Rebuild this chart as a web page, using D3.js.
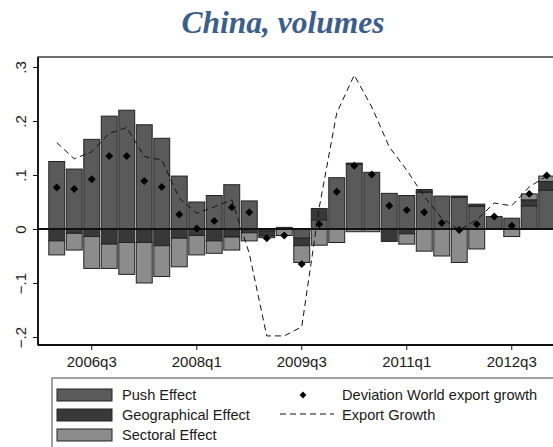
<!DOCTYPE html>
<html>
<head>
<meta charset="utf-8">
<script src="https://cdn.jsdelivr.net/npm/d3@7"></script>
<style>
  body { margin: 0; background: #fff; }
  svg { display: block; }
  text { font-family: "Liberation Sans", Arial, sans-serif; fill: #1a1a1a; }
</style>
</head>
<body>
<svg id="chart" width="553" height="447"></svg>
<script>
// quarters 2006q1 .. 2013q1
let quarters = [];
for (let yr = 2006; yr <= 2013; yr++) {
  for (let q = 1; q <= 4; q++) {
    if (yr === 2013 && q > 1) break;
    quarters.push(yr + "q" + q);
  }
}

let pushEffect = [0.125, 0.111, 0.166, 0.209, 0.220, 0.193, 0.168, 0.098, 0.050, 0.062, 0.082, 0.052,
  -0.004, 0.003, -0.017, 0.017, 0.095, 0.120, 0.105, 0.066, 0.062, 0.068, 0.061, 0.059, 0.042, 0.023, 0.020, 0.043, 0.072];
let geoEffect = [-0.022, -0.008, -0.014, -0.028, -0.025, -0.025, -0.031, -0.017, -0.012, -0.022, -0.015, -0.007,
  -0.009, 0, -0.014, 0.021, 0, 0.002, 0, -0.023, -0.009, 0.005, 0, 0.002, 0.004, 0, 0, 0.011, 0.016];
let sectEffect = [-0.026, -0.031, -0.059, -0.045, -0.059, -0.075, -0.057, -0.053, -0.036, -0.023, -0.024, -0.015,
  -0.003, -0.012, -0.031, -0.030, -0.025, -0.005, -0.005, 0, -0.019, -0.041, -0.050, -0.062, -0.037, 0, -0.014, 0.011, 0.010];
let deviation = [0.077, 0.074, 0.092, 0.135, 0.135, 0.089, 0.078, 0.027, 0.001, 0.015, 0.040, 0.031,
  -0.017, -0.012, -0.065, 0.009, 0.069, 0.117, 0.101, 0.043, 0.035, 0.031, 0.011, -0.002, 0.009, 0.023, 0.006, 0.065, 0.099];
let exportGrowth = [0.160, 0.130, 0.143, 0.177, 0.188, 0.134, 0.128, 0.057, 0.029, 0.041, 0.054, -0.045,
  -0.198, -0.198, -0.181, 0.040, 0.215, 0.285, 0.226, 0.152, 0.109, 0.060, 0.020, -0.002, 0.017, 0.048, 0.043, 0.078, 0.098];

let xTicks = ["2006q3", "2008q1", "2009q3", "2011q1", "2012q3"];
let yTicks = [-0.2, -0.1, 0, 0.1, 0.2, 0.3];
let seriesNames = ["Push Effect", "Geographical Effect", "Sectoral Effect"];
let seriesColors = ["#5a5a5a", "#383838", "#8c8c8c"];

let svg = d3.select("#chart");
let pLeft = 38, pTop = 57, pRight = 600, pBottom = 345;

let x = d3.scaleBand()
  .domain(quarters)
  .range([48, 48 + 17.5 * quarters.length])
  .paddingInner(0.09)
  .paddingOuter(0.045);

let y = d3.scaleLinear().domain([-0.2, 0.3]).range([337, 67]);

// title
svg.append("text")
  .attr("x", 283)
  .attr("y", 33)
  .attr("text-anchor", "middle")
  .style("font-family", "'Liberation Serif', 'Times New Roman', serif")
  .style("font-weight", "bold")
  .style("font-style", "italic")
  .style("font-size", "31.5px")
  .style("fill", "#3b5e8c")
  .text("China, volumes");

// plot frame
svg.append("rect")
  .attr("x", pLeft).attr("y", pTop)
  .attr("width", pRight - pLeft).attr("height", pBottom - pTop)
  .attr("fill", "none").attr("stroke", "#111").attr("stroke-width", 1.2);

// stacked bars, positives up from 0, negatives down from 0
let segs = [];
quarters.forEach(function (q, i) {
  let vals = [pushEffect[i], geoEffect[i], sectEffect[i]];
  let pos = 0, neg = 0;
  vals.forEach(function (v, k) {
    if (v === 0) return;
    if (v > 0) { segs.push({ q: q, k: k, y0: pos, y1: pos + v }); pos += v; }
    else { segs.push({ q: q, k: k, y0: neg, y1: neg + v }); neg += v; }
  });
});

svg.append("g")
  .selectAll("rect")
  .data(segs)
  .enter()
  .append("rect")
  .attr("x", function (d) { return x(d.q); })
  .attr("width", x.bandwidth())
  .attr("y", function (d) { return y(Math.max(d.y0, d.y1)); })
  .attr("height", function (d) { return Math.abs(y(d.y0) - y(d.y1)); })
  .attr("fill", function (d) { return seriesColors[d.k]; })
  .attr("stroke", "#222")
  .attr("stroke-width", 1);

// zero line
svg.append("line")
  .attr("x1", pLeft).attr("x2", pRight)
  .attr("y1", y(0)).attr("y2", y(0))
  .attr("stroke", "#111").attr("stroke-width", 1.8);

// export growth dashed line
let line = d3.line()
  .x(function (d, i) { return x(quarters[i]) + x.bandwidth() / 2; })
  .y(function (d) { return y(d); });

svg.append("path")
  .datum(exportGrowth)
  .attr("d", line)
  .attr("fill", "none")
  .attr("stroke", "#111")
  .attr("stroke-width", 1)
  .attr("stroke-dasharray", "6,4");

// deviation diamonds
svg.append("g")
  .selectAll("path")
  .data(deviation)
  .enter()
  .append("path")
  .attr("d", d3.symbol().type(d3.symbolDiamond2).size(40))
  .attr("transform", function (d, i) {
    return "translate(" + (x(quarters[i]) + x.bandwidth() / 2) + "," + y(d) + ")";
  })
  .attr("fill", "#000");

// axes
let xAxis = svg.append("g")
  .attr("transform", "translate(0," + pBottom + ")")
  .call(d3.axisBottom(x).tickValues(xTicks).tickSize(5).tickPadding(6));
xAxis.select(".domain").remove();
xAxis.selectAll("line").attr("stroke", "#111");
xAxis.selectAll("text").style("font-size", "15px").attr("fill", "#1a1a1a")
  .style("font-family", "'Liberation Sans', Arial, sans-serif");

let yAxis = svg.append("g")
  .attr("transform", "translate(" + pLeft + ",0)")
  .call(d3.axisLeft(y).tickValues(yTicks).tickSize(5)
    .tickFormat(function (d) { return d === 0 ? "0" : d3.format(".1f")(d).replace("0.", "."); }));
yAxis.select(".domain").remove();
yAxis.selectAll("line").attr("stroke", "#111");
yAxis.selectAll("text")
  .style("font-size", "15px")
  .style("font-family", "'Liberation Sans', Arial, sans-serif")
  .attr("fill", "#1a1a1a")
  .attr("text-anchor", "middle")
  .attr("x", 0).attr("dy", 0)
  .attr("transform", "translate(-12,0) rotate(-90)");

// axis lines drawn over
svg.append("line").attr("x1", pLeft).attr("x2", pLeft).attr("y1", pTop).attr("y2", pBottom)
  .attr("stroke", "#111").attr("stroke-width", 1.8);
svg.append("line").attr("x1", pLeft).attr("x2", pRight).attr("y1", pBottom).attr("y2", pBottom)
  .attr("stroke", "#111").attr("stroke-width", 1.8);

// legend
svg.append("rect")
  .attr("x", 52).attr("y", 378).attr("width", 560).attr("height", 100)
  .attr("fill", "#fff").attr("stroke", "#444").attr("stroke-width", 1);

let leg = svg.append("g");
seriesNames.forEach(function (name, k) {
  let by = 400 + 20 * k;
  leg.append("rect")
    .attr("x", 57).attr("y", by - 11).attr("width", 55).attr("height", 12)
    .attr("fill", seriesColors[k]).attr("stroke", "#222").attr("stroke-width", 1);
  leg.append("text").attr("x", 122).attr("y", by).style("font-size", "14.6px").text(name);
});

leg.append("path")
  .attr("d", d3.symbol().type(d3.symbolDiamond2).size(30))
  .attr("transform", "translate(303,395)")
  .attr("fill", "#000");
leg.append("text").attr("x", 342).attr("y", 400).style("font-size", "14.6px").text("Deviation World export growth");

leg.append("line")
  .attr("x1", 280).attr("x2", 334).attr("y1", 414).attr("y2", 414)
  .attr("stroke", "#111").attr("stroke-width", 1).attr("stroke-dasharray", "6,4");
leg.append("text").attr("x", 342).attr("y", 420).style("font-size", "14.6px").text("Export Growth");
</script>
</body>
</html>
